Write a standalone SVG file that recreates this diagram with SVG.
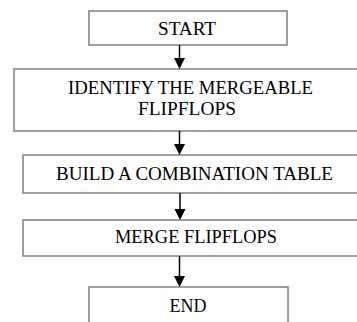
<svg xmlns="http://www.w3.org/2000/svg" width="357" height="322" viewBox="0 0 357 322">
  <style>
    .box { fill: #ffffff; stroke: #808080; stroke-width: 1.5; }
    .lbl { font-family: "Liberation Serif", "Times New Roman", serif; font-size: 18px; fill: #000000; text-anchor: middle; }
    .arrow { stroke: #000000; stroke-width: 1.5; fill: none; }
    .head { fill: #000000; stroke: none; }
  </style>
  <rect width="357" height="322" fill="#ffffff"/>

  <g id="start">
    <rect class="box" x="89" y="11" width="198" height="34"/>
    <text class="lbl" x="187" y="35" textLength="58" lengthAdjust="spacingAndGlyphs">START</text>
  </g>

  <g id="identify">
    <rect class="box" x="14" y="69" width="348" height="62"/>
    <text class="lbl" x="190.5" y="93.5" textLength="245" lengthAdjust="spacingAndGlyphs">IDENTIFY THE MERGEABLE</text>
    <text class="lbl" x="187" y="114.5" textLength="98" lengthAdjust="spacingAndGlyphs">FLIPFLOPS</text>
  </g>

  <g id="build">
    <rect class="box" x="23" y="155" width="342" height="38"/>
    <text class="lbl" x="194.5" y="179.5" textLength="277" lengthAdjust="spacingAndGlyphs">BUILD A COMBINATION TABLE</text>
  </g>

  <g id="merge">
    <rect class="box" x="23" y="220" width="342" height="36"/>
    <text class="lbl" x="196" y="243" textLength="162" lengthAdjust="spacingAndGlyphs">MERGE FLIPFLOPS</text>
  </g>

  <g id="end">
    <rect class="box" x="89" y="287" width="199" height="45"/>
    <text class="lbl" x="188" y="311.5" textLength="37" lengthAdjust="spacingAndGlyphs">END</text>
  </g>

  <g id="connectors">
    <line class="arrow" x1="179.5" y1="45" x2="179.5" y2="59"/>
    <polygon class="head" points="174,58 185,58 179.5,69"/>
    <line class="arrow" x1="179.5" y1="131" x2="179.5" y2="145"/>
    <polygon class="head" points="174,144 185,144 179.5,155"/>
    <line class="arrow" x1="180" y1="193" x2="180" y2="210"/>
    <polygon class="head" points="174.5,209 185.5,209 180,220"/>
    <line class="arrow" x1="179.5" y1="256" x2="179.5" y2="277"/>
    <polygon class="head" points="174,276 185,276 179.5,287"/>
  </g>
</svg>
